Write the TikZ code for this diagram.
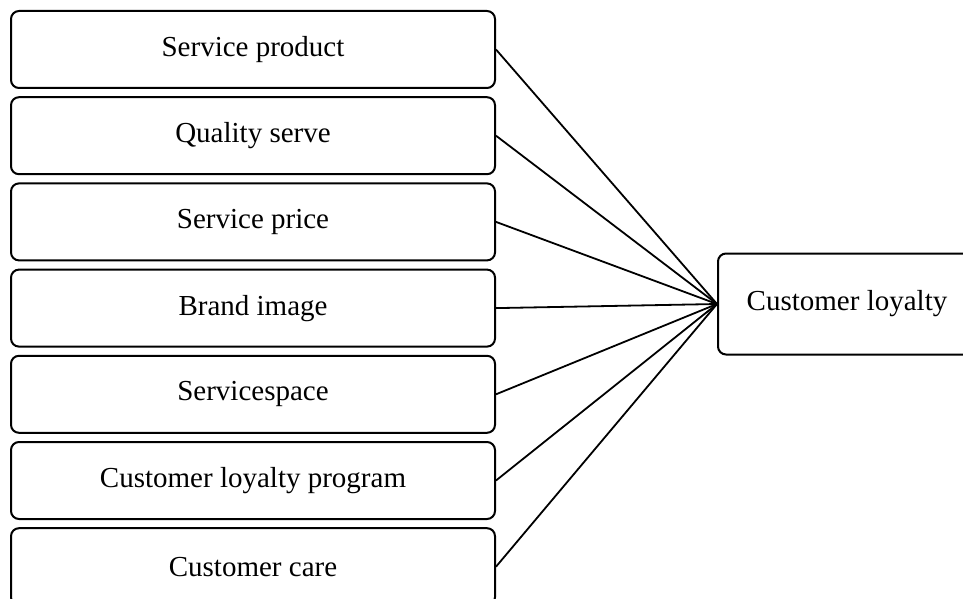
\documentclass[tikz,border=0pt]{standalone}
\usepackage{fontspec}
\setmainfont{Liberation Serif}
\usetikzlibrary{positioning}
\tikzstyle{factor}=[draw,rounded corners=4pt,line width=1pt,minimum
width=242pt,minimum height=38.5pt,inner sep=0pt]
\tikzstyle{link}=[line width=0.9pt]

\begin{document}
\begin{tikzpicture}[x=0.5pt, y=-0.5pt, node distance=43.1pt, on grid]
  \useasboundingbox (0,0) rectangle (963,599);
  \fontsize{14.5}{17}\selectfont

  \node[factor] (f1) at (253,49.5) {Service product};
  \node[factor, below=of f1] (f2) {Quality serve};
  \node[factor, below=of f2] (f3) {Service price};
  \node[factor, below=of f3] (f4) {Brand image};
  \node[factor, below=of f4] (f5) {Servicespace};
  \node[factor, below=of f5] (f6) {Customer loyalty program};
  \node[factor, below=of f6] (f7) {Customer care};

  \node[factor, minimum width=129pt, minimum height=50.5pt] (loyal)
    at (847,304) {Customer loyalty};

  \foreach \i in {1,...,7}
    \draw[link] (f\i.east) -- (loyal.west);
\end{tikzpicture}
\end{document}
